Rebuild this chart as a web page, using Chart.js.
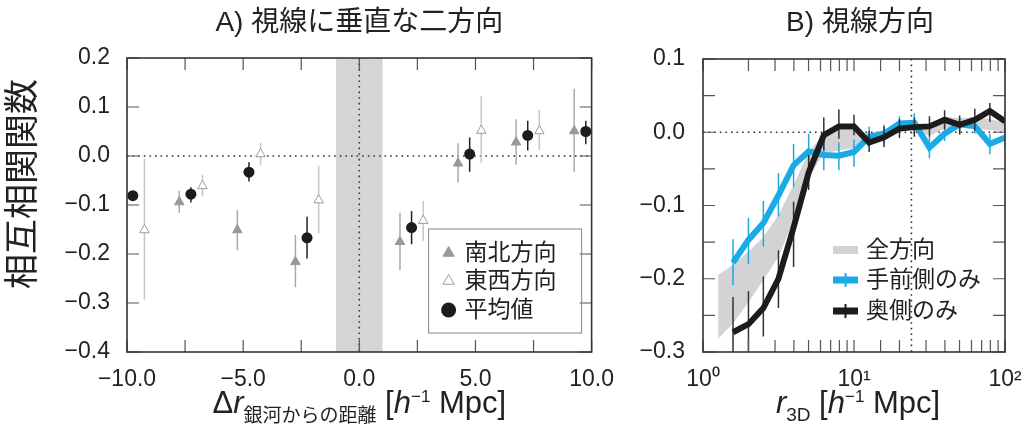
<!DOCTYPE html>
<html lang="ja">
<head>
<meta charset="UTF-8">
<title>相互相関関数</title>
<script src="https://cdn.jsdelivr.net/npm/chart.js"></script>
<style>
  html, body { margin: 0; padding: 0; background: #fff; }
  #wrap { position: relative; width: 1036px; height: 428px; overflow: hidden; }
  #wrap canvas { position: absolute; top: 0; }
  #panelA { left: 0; }
  #panelB { left: 620px; }
</style>
</head>
<body>
<div id="wrap">
  <canvas id="panelA" width="620" height="428"></canvas>
  <canvas id="panelB" width="416" height="428"></canvas>
</div>

<script>
  // --- A) 視線に垂直な二方向 ---
  const nsX  = [-7.75, -5.25, -2.75, 1.75, 4.25, 6.75, 9.25];        // 南北方向
  const nsY  = [-0.094, -0.151, -0.216, -0.175, -0.015, 0.028, 0.051];
  const nsLo = [-0.116, -0.192, -0.268, -0.233, -0.054, -0.018, -0.033];
  const nsHi = [-0.071, -0.110, -0.161, -0.116, 0.026, 0.075, 0.137];

  const ewX  = [-9.25, -6.75, -4.25, -1.75, 2.75, 5.25, 7.75];       // 東西方向
  const ewY  = [-0.151, -0.061, 0.004, -0.090, -0.132, 0.052, 0.051];
  const ewLo = [-0.293, -0.082, -0.018, -0.158, -0.173, -0.015, 0.012];
  const ewHi = [-0.005, -0.039, 0.027, -0.020, -0.092, 0.122, 0.094];

  const avgX  = [-9.75, -7.25, -4.75, -2.25, 2.25, 4.75, 7.25, 9.75]; // 平均値
  const avgY  = [-0.081, -0.078, -0.033, -0.167, -0.146, 0.004, 0.042, 0.050];
  const avgLo = [-0.090, -0.095, -0.052, -0.209, -0.180, -0.032, 0.011, 0.024];
  const avgHi = [-0.072, -0.064, -0.013, -0.124, -0.112, 0.038, 0.072, 0.072];

  const maskedRange = [-1.0, 1.0];   // 灰色の帯 (Δr)

  // --- B) 視線方向 ---
  const rBins = [1.58, 2.0, 2.51, 3.16, 3.98, 5.01, 6.31, 7.94, 10.0, 12.6,
                 15.8, 20.0, 25.1, 31.6, 39.8, 50.1, 63.1, 79.4, 100];
  const nearY  = [-0.178, -0.147, -0.124, -0.086, -0.045, -0.026, -0.031, -0.032, -0.027, -0.006,
                  -0.002, 0.012, 0.013, -0.021, -0.002, 0.011, 0.008, -0.016, -0.007];
  const nearLo = [-0.209, -0.180, -0.156, -0.115, -0.075, -0.048, -0.052, -0.052, -0.047, -0.020,
                  -0.015, 0.002, -0.003, -0.036, -0.012, 0.002, -0.002, -0.030, -0.020];
  const nearHi = [-0.146, -0.117, -0.094, -0.056, -0.016, -0.002, -0.012, -0.014, -0.010, 0.008,
                  0.010, 0.022, 0.026, -0.006, 0.010, 0.020, 0.018, -0.002, 0.006];
  const farY  = [-0.273, -0.262, -0.240, -0.200, -0.130, -0.055, -0.004, 0.008, 0.008, -0.014,
                 -0.007, 0.005, 0.007, 0.008, 0.017, 0.010, 0.017, 0.029, 0.015];
  const farLo = [-0.300, -0.300, -0.279, -0.240, -0.184, -0.079, -0.025, -0.009, -0.004, -0.027,
                 -0.020, -0.008, -0.006, -0.006, 0.004, -0.003, 0.002, 0.014, 0.000];
  const farHi = [-0.225, -0.217, -0.197, -0.161, -0.095, -0.031, 0.020, 0.031, 0.024, 0.002,
                 0.008, 0.018, 0.020, 0.022, 0.030, 0.023, 0.032, 0.040, 0.028];

  const bandR  = [1.26, 1.58, 2.0, 2.51, 3.16, 3.98, 5.01, 6.31, 7.94, 10.0,
                  12.6, 15.8, 20.0, 25.1, 31.6, 39.8, 50.1, 63.1, 79.4, 100];
  const bandHi = [-0.195, -0.181, -0.163, -0.143, -0.113, -0.072, -0.027, -0.002, 0.004, 0.003,
                  -0.002, 0.003, 0.014, 0.012, 0.010, 0.021, 0.019, 0.021, 0.018, 0.013];
  const bandLo = [-0.282, -0.261, -0.232, -0.202, -0.170, -0.120, -0.061, -0.029, -0.025, -0.022,
                  -0.015, -0.008, 0.005, 0.003, -0.005, 0.005, 0.008, 0.005, 0.003, 0.001];

  const rMarker = 24;   // 点線の位置

  const LATIN = '"Liberation Sans", Arial, sans-serif';
  const JP = '"Liberation Sans", "Noto Sans CJK JP", sans-serif';
  const BLUE = '#19abe6';
  const BLACK = '#1c1c1c';
  const SUP = ['⁰', '¹', '²'];

  const fmt1 = v => (v < -1e-9 ? '−' : '') + Math.abs(v).toFixed(1);
  const pts = (xs, ys) => xs.map((x, i) => ({ x, y: ys[i] }));

  // error bars, drawn under each dataset
  const errorBars = {
    id: 'errorBars',
    beforeDatasetDraw(chart, args) {
      const ds = chart.data.datasets[args.index];
      if (!ds.errLo) return;
      const { ctx, chartArea: a, scales: { x, y } } = chart;
      ctx.save();
      ctx.beginPath();
      ctx.rect(a.left, a.top, a.right - a.left, a.bottom - a.top);
      ctx.clip();
      ctx.strokeStyle = ds.errColor;
      ctx.lineWidth = ds.errWidth || 1.5;
      ctx.beginPath();
      ds.data.forEach((p, i) => {
        const px = x.getPixelForValue(p.x);
        ctx.moveTo(px, y.getPixelForValue(ds.errLo[i]));
        ctx.lineTo(px, y.getPixelForValue(ds.errHi[i]));
      });
      ctx.stroke();
      ctx.restore();
    }
  };

  function drawRich(ctx, parts, cx, base) {
    let w = 0;
    parts.forEach(p => { ctx.font = p.font; p.w = ctx.measureText(p.t).width; w += p.w; });
    let x = cx - w / 2;
    ctx.textAlign = 'left';
    ctx.textBaseline = 'alphabetic';
    parts.forEach(p => { ctx.font = p.font; ctx.fillText(p.t, x, base + (p.dy || 0)); x += p.w; });
  }

  function drawSymbol(ctx, ds, kind, x, y, r) {
    ctx.save();
    ctx.lineWidth = 1;
    if (kind === 'triangle') {
      ctx.beginPath();
      for (let k = 0; k < 3; k++) {
        const ang = k * 2 * Math.PI / 3;
        const px = x + Math.sin(ang) * r, py = y - Math.cos(ang) * r;
        k ? ctx.lineTo(px, py) : ctx.moveTo(px, py);
      }
      ctx.closePath();
      ctx.fillStyle = ds.backgroundColor; ctx.strokeStyle = ds.borderColor;
      ctx.fill(); ctx.stroke();
    } else if (kind === 'circle') {
      ctx.beginPath(); ctx.arc(x, y, r, 0, 2 * Math.PI);
      ctx.fillStyle = ds.backgroundColor; ctx.fill();
    } else if (kind === 'rect') {
      ctx.fillStyle = ds.backgroundColor;
      ctx.fillRect(x, y - 4, 25, 8);
    } else if (kind === 'line') {
      ctx.fillStyle = ds.borderColor;
      ctx.fillRect(x, y - 3.5, 25, 7);
      ctx.fillRect(x + 11.5, y - 7, 2, 14);
    }
    ctx.restore();
  }

  // frame, inward ticks, dotted lines, band, texts, legend
  const frame = {
    id: 'frame',
    beforeDatasetsDraw(chart, args, o) {
      const { ctx, chartArea: a, scales: { x, y } } = chart;
      ctx.save();
      if (o.band) {
        const x0 = x.getPixelForValue(o.band[0]), x1 = x.getPixelForValue(o.band[1]);
        ctx.fillStyle = '#d5d5d7';
        ctx.fillRect(x0, a.top, x1 - x0, a.bottom - a.top);
      }
      ctx.strokeStyle = '#333';
      ctx.lineWidth = 1.6;
      ctx.setLineDash([1.6, 4]);
      ctx.beginPath();
      (o.hLines || []).forEach(v => {
        const py = y.getPixelForValue(v);
        ctx.moveTo(a.left, py); ctx.lineTo(a.right, py);
      });
      (o.vLines || []).forEach(v => {
        const px = x.getPixelForValue(v);
        ctx.moveTo(px, a.top); ctx.lineTo(px, a.bottom);
      });
      ctx.stroke();
      ctx.restore();
    },
    afterDraw(chart, args, o) {
      const { ctx, chartArea: a, scales: { x, y } } = chart;
      const L = 12;
      ctx.save();
      ctx.strokeStyle = '#555';
      ctx.lineWidth = 1.2;
      ctx.beginPath();
      x.ticks.forEach(t => {
        const px = x.getPixelForValue(t.value);
        ctx.moveTo(px, a.bottom); ctx.lineTo(px, a.bottom - L);
        ctx.moveTo(px, a.top); ctx.lineTo(px, a.top + L);
      });
      y.ticks.forEach(t => {
        const py = y.getPixelForValue(t.value);
        ctx.moveTo(a.left, py); ctx.lineTo(a.left + L, py);
        ctx.moveTo(a.right, py); ctx.lineTo(a.right - L, py);
      });
      ctx.stroke();
      ctx.strokeStyle = '#333';
      ctx.lineWidth = 1.6;
      ctx.strokeRect(a.left, a.top, a.right - a.left, a.bottom - a.top);

      ctx.fillStyle = '#222';
      ctx.font = '28px ' + JP;
      ctx.textAlign = 'center';
      ctx.textBaseline = 'middle';
      ctx.fillText(o.title, (a.left + a.right) / 2 + (o.titleDx || 0), 23);

      if (o.yTitle) {
        ctx.save();
        ctx.translate(24, 184);
        ctx.rotate(-Math.PI / 2);
        ctx.font = '35px ' + JP;
        ctx.fillText(o.yTitle, 0, 0);
        ctx.restore();
      }
      drawRich(ctx, o.xTitle, (a.left + a.right) / 2 + (o.xTitleDx || 0), 413);

      const lg = o.legend;
      if (lg.box) {
        const bx = a.right - lg.box.right - lg.box.w, by = a.bottom - lg.box.bottom - lg.box.h;
        ctx.strokeStyle = '#888';
        ctx.lineWidth = 1;
        ctx.strokeRect(bx, by, lg.box.w, lg.box.h);
      }
      const ox = lg.box ? a.right - lg.box.right - lg.box.w : a.left + lg.left;
      const oy = lg.box ? a.bottom - lg.box.bottom - lg.box.h : a.top + lg.top;
      ctx.font = '23px ' + JP;
      ctx.textAlign = 'left';
      ctx.textBaseline = 'middle';
      ctx.fillStyle = '#222';
      lg.items.forEach((it, i) => {
        const ds = chart.data.datasets[it.ds];
        const yy = oy + lg.rows[i];
        drawSymbol(ctx, ds, it.kind, ox + lg.symX, yy, it.r);
        ctx.fillStyle = '#222';
        ctx.fillText(ds.label, ox + lg.textX, yy + 1);
      });
      ctx.restore();
    }
  };

  const tickFont = { family: LATIN, size: 23 };

  new Chart(document.getElementById('panelA'), {
    type: 'scatter',
    data: {
      datasets: [
        { label: '平均値', data: pts(avgX, avgY), errLo: avgLo, errHi: avgHi, errColor: '#222',
          pointStyle: 'circle', pointRadius: 5.5, backgroundColor: BLACK, borderColor: BLACK,
          borderWidth: 0, order: 0, clip: false },
        { label: '東西方向', data: pts(ewX, ewY), errLo: ewLo, errHi: ewHi, errColor: '#c6c6c6',
          pointStyle: 'triangle', pointRadius: 5.5, backgroundColor: '#fff', borderColor: '#9d9d9d',
          borderWidth: 1, order: 1, clip: false },
        { label: '南北方向', data: pts(nsX, nsY), errLo: nsLo, errHi: nsHi, errColor: '#aaa',
          pointStyle: 'triangle', pointRadius: 5.5, backgroundColor: '#999', borderColor: '#999',
          borderWidth: 1, order: 2, clip: false }
      ]
    },
    options: {
      responsive: false,
      animation: false,
      events: [],
      layout: { padding: { top: 58, right: 27, left: 0, bottom: 0 } },
      plugins: {
        legend: { display: false },
        tooltip: { enabled: false },
        frame: {
          band: maskedRange,
          hLines: [0],
          vLines: [0],
          title: 'A) 視線に垂直な二方向',
          yTitle: '相互相関関数',
          xTitle: [
            { t: 'Δ', font: '31px ' + LATIN },
            { t: 'r', font: 'italic 31px ' + LATIN },
            { t: '銀河からの距離', font: '19px ' + JP, dy: 9 },
            { t: ' [', font: '31px ' + LATIN },
            { t: 'h', font: 'italic 31px ' + LATIN },
            { t: '−1', font: '17px ' + LATIN, dy: -11 },
            { t: ' Mpc]', font: '31px ' + LATIN }
          ],
          legend: {
            box: { right: 10, bottom: 19, w: 153, h: 104 },
            rows: [24, 52, 81], symX: 20, textX: 36,
            items: [
              { ds: 2, kind: 'triangle', r: 6.5 },
              { ds: 1, kind: 'triangle', r: 6.5 },
              { ds: 0, kind: 'circle', r: 7.5 }
            ]
          }
        }
      },
      scales: {
        x: {
          type: 'linear', min: -10, max: 10,
          grid: { display: false }, border: { display: false },
          ticks: { stepSize: 2.5, autoSkip: false, maxRotation: 0, padding: 6, color: '#222', font: tickFont,
                   callback: v => (Math.abs(v % 5) < 1e-9 ? fmt1(v) : '') },
          afterFit: s => { s.height = 76; }
        },
        y: {
          type: 'linear', min: -0.4, max: 0.2,
          grid: { display: false }, border: { display: false },
          ticks: { stepSize: 0.1, padding: 9, color: '#222', font: tickFont, callback: v => fmt1(v) },
          afterFit: s => { s.width = 127; }
        }
      }
    },
    plugins: [errorBars, frame]
  });

  new Chart(document.getElementById('panelB'), {
    type: 'line',
    data: {
      datasets: [
        { label: '奥側のみ', data: pts(rBins, farY), errLo: farLo, errHi: farHi, errColor: '#333',
          borderColor: BLACK, backgroundColor: BLACK, borderWidth: 6, pointRadius: 0, fill: false, order: 0 },
        { label: '手前側のみ', data: pts(rBins, nearY), errLo: nearLo, errHi: nearHi, errColor: BLUE,
          borderColor: BLUE, backgroundColor: BLUE, borderWidth: 6, pointRadius: 0, fill: false, order: 1 },
        { label: '全方向', data: pts(bandR, bandHi), borderWidth: 0, pointRadius: 0, fill: false,
          backgroundColor: '#d3d3d5', borderColor: 'rgba(0,0,0,0)', order: 2 },
        { label: '全方向', data: pts(bandR, bandLo), borderWidth: 0, pointRadius: 0, fill: '-1',
          backgroundColor: '#d3d3d5', borderColor: 'rgba(0,0,0,0)', order: 3 }
      ]
    },
    options: {
      responsive: false,
      animation: false,
      events: [],
      layout: { padding: { top: 59, right: 31, left: 0, bottom: 0 } },
      plugins: {
        legend: { display: false },
        tooltip: { enabled: false },
        frame: {
          hLines: [0],
          vLines: [rMarker],
          title: 'B) 視線方向',
          titleDx: 6,
          xTitle: [
            { t: 'r', font: 'italic 31px ' + LATIN },
            { t: '3D', font: '19px ' + LATIN, dy: 8 },
            { t: ' [', font: '31px ' + LATIN },
            { t: 'h', font: 'italic 31px ' + LATIN },
            { t: '−1', font: '17px ' + LATIN, dy: -11 },
            { t: ' Mpc]', font: '31px ' + LATIN }
          ],
          xTitleDx: 4,
          legend: {
            left: 130, top: 0,
            rows: [191, 221, 252], symX: 0, textX: 33,
            items: [
              { ds: 3, kind: 'rect' },
              { ds: 1, kind: 'line' },
              { ds: 0, kind: 'line' }
            ]
          }
        }
      },
      scales: {
        x: {
          type: 'logarithmic', min: 1, max: 100,
          grid: { display: false }, border: { display: false },
          ticks: { autoSkip: false, maxRotation: 0, padding: 6, color: '#222', font: tickFont,
                   callback: v => {
                     const e = Math.log10(v);
                     return Math.abs(e - Math.round(e)) < 1e-9 ? '10' + SUP[Math.round(e)] : '';
                   } },
          afterFit: s => { s.height = 76; }
        },
        y: {
          type: 'linear', min: -0.3, max: 0.1,
          grid: { display: false }, border: { display: false },
          ticks: { stepSize: 0.05, padding: 10, color: '#222', font: tickFont,
                   callback: v => (Math.abs(v * 10 - Math.round(v * 10)) < 1e-6 ? fmt1(v) : '') },
          afterFit: s => { s.width = 83; }
        }
      }
    },
    plugins: [errorBars, frame]
  });
</script>
</body>
</html>
